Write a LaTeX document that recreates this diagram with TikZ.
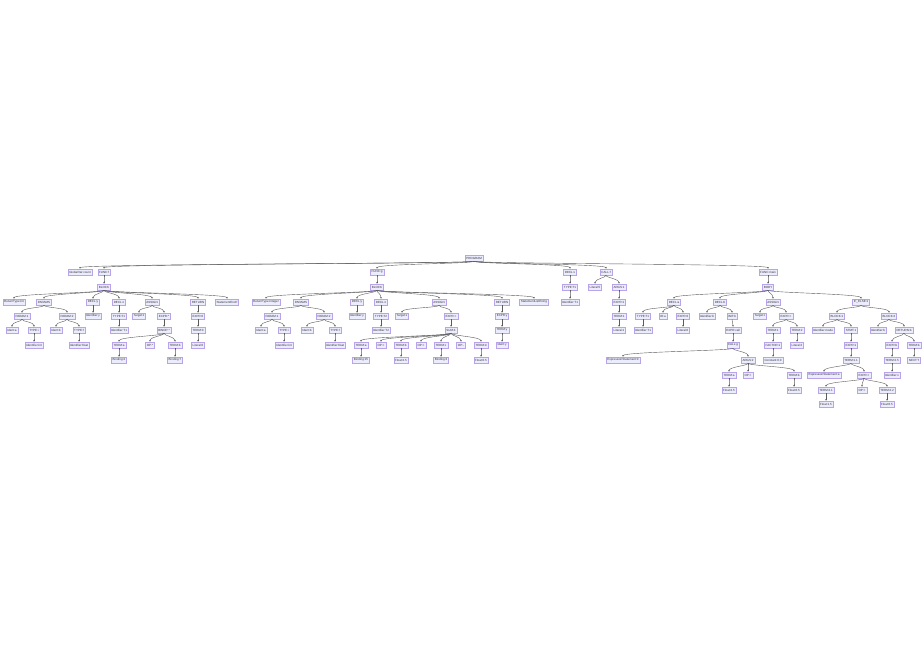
\documentclass[tikz,border=0pt]{standalone}
\usepackage{fontspec}
\setmainfont{Liberation Sans}
\usetikzlibrary{arrows.meta}
\definecolor{mfill}{HTML}{ECECFF}
\definecolor{mstroke}{HTML}{B9A3EA}
\definecolor{medge}{HTML}{5A5A5A}
\definecolor{mtext}{HTML}{333333}
\tikzset{
  nd/.style={rectangle, fill=mfill, draw=mstroke, line width=0.3pt,
    inner xsep=1.3pt, inner ysep=1pt, minimum height=6.2pt,
    font=\fontsize{3}{3.6}\selectfont, text=mtext},
  edge/.style={draw=medge, line width=0.4pt, -{Stealth[length=1.8pt,width=1.7pt]}}
}
\begin{document}
\begin{tikzpicture}[x=1pt,y=1pt]
\fill[white] (0,-664) rectangle (924,0);
\useasboundingbox (0,-664) rectangle (924,0);
% level 0
\node[nd] (r) at (474,-258) {PROGRAM};
% level 1
\node[nd] (a1) at (80,-272) {GlobalVar:count};
\node[nd] (f1) at (104,-272) {FUNC:f};
\node[nd] (f2) at (377,-272) {FUNC:g};
\node[nd] (d1) at (570,-272) {DECL:x};
\node[nd] (c1) at (606,-272) {CALL:f};
\node[nd] (m1) at (768,-272) {FUNC:main};
% level 2
\node[nd] (f1b) at (104,-287) {BLOCK};
\node[nd] (f2b) at (377,-287) {BLOCK};
\node[nd] (d1b) at (570,-287) {TYPE:T1};
\node[nd] (c1a) at (595,-287) {Literal:5};
\node[nd] (c1b) at (619,-287) {ARGS:1};
\node[nd] (m1b) at (768,-287) {BODY};
% f1 subtree
\node[nd] (f1r) at (14,-302) {ReturnType:int};
\node[nd] (f1p) at (44,-302) {PARAMS};
\node[nd] (f1d1) at (93,-302) {DECL:y};
\node[nd] (f1d2) at (119,-302) {DECL:z};
\node[nd] (f1as) at (152,-302) {ASSIGN};
\node[nd] (f1ret) at (198,-302) {RETURN};
\node[nd] (f1end) at (227,-302) {StatementEnd:f};
\node[nd] (p1) at (22,-316) {PARAM:1};
\node[nd] (p2) at (67,-316) {PARAM:2};
\node[nd] (f1d1i) at (93,-316) {Identifier:y};
\node[nd] (f1d2t) at (119,-316) {TYPE:T1};
\node[nd] (f1asl) at (139,-316) {Target:z};
\node[nd] (f1ase) at (164,-316) {EXPR:*};
\node[nd] (f1rete) at (198,-316) {EXPR:0};
\node[nd] (p1n) at (12,-330) {Ident:a};
\node[nd] (p1t) at (34,-330) {TYPE:i};
\node[nd] (p2n) at (56,-330) {Ident:b};
\node[nd] (p2t) at (79,-330) {TYPE:f};
\node[nd] (f1d2ti) at (119,-330) {Identifier:T1};
\node[nd] (f1asb) at (164,-330) {BINOP:*};
\node[nd] (f1rett) at (198,-330) {TERM:0};
\node[nd] (p1ti) at (34,-345) {Identifier:int};
\node[nd] (p2ti) at (79,-345) {Identifier:float};
\node[nd] (f1bt1) at (119,-345) {TERM:a};
\node[nd] (f1bop) at (150,-345) {OP:*};
\node[nd] (f1bt2) at (175,-345) {TERM:b};
\node[nd] (f1retl) at (198,-345) {Literal:0};
\node[nd] (f1bt1v) at (119,-360) {Binding:2};
\node[nd] (f1bt2v) at (175,-360) {Binding:7};
% f2 subtree
\node[nd] (f2r) at (266,-302) {ReturnType:integer};
\node[nd] (f2p) at (301,-302) {PARAMS};
\node[nd] (f2d1) at (357,-302) {DECL:y};
\node[nd] (f2d2) at (381,-302) {DECL:z};
\node[nd] (f2as) at (439,-302) {ASSIGN};
\node[nd] (f2ret) at (502,-302) {RETURN};
\node[nd] (f2end) at (534,-302) {StatementListEnd:g};
\node[nd] (q1) at (272,-316) {PARAM:1};
\node[nd] (q2) at (324,-316) {PARAM:2};
\node[nd] (f2d1i) at (357,-316) {Identifier:y};
\node[nd] (f2d2t) at (381,-316) {TYPE:T2};
\node[nd] (f2asl) at (402,-316) {Target:z};
\node[nd] (f2ase) at (451,-316) {EXPR:+};
\node[nd] (f2rete) at (502,-316) {EXPR:y};
\node[nd] (q1n) at (261,-330) {Ident:a};
\node[nd] (q1t) at (284,-330) {TYPE:i};
\node[nd] (q2n) at (307,-330) {Ident:b};
\node[nd] (q2t) at (335,-330) {TYPE:f};
\node[nd] (f2d2ti) at (381,-330) {Identifier:T2};
\node[nd] (f2asb) at (451,-330) {SUM:4};
\node[nd] (f2rett) at (502,-330) {TERM:y};
\node[nd] (q1ti) at (284,-345) {Identifier:int};
\node[nd] (q2ti) at (335,-345) {Identifier:float};
\node[nd] (g1) at (361,-345) {TERM:a};
\node[nd] (g2) at (381,-345) {OP:+};
\node[nd] (g3) at (401,-345) {TERM:b};
\node[nd] (g4) at (421,-345) {OP:+};
\node[nd] (g5) at (441,-345) {TERM:c};
\node[nd] (g6) at (461,-345) {OP:-};
\node[nd] (g7) at (481,-345) {TERM:d};
\node[nd] (f2retl) at (502,-345) {Ident:y};
\node[nd] (g1v) at (361,-360) {Binding:15};
\node[nd] (g3v) at (401,-360) {Float:2.5};
\node[nd] (g5v) at (441,-360) {Binding:3};
\node[nd] (g7v) at (481,-360) {Float:0.5};
% d1 and c1 subtrees
\node[nd] (d1bi) at (570,-302) {Identifier:T1};
\node[nd] (c1be) at (619,-302) {EXPR:1};
\node[nd] (c1bt) at (619,-316) {TERM:1};
\node[nd] (c1bl) at (619,-330) {Literal:1};
% main subtree
\node[nd] (ma) at (674,-302) {DECL:a};
\node[nd] (mb) at (720,-302) {DECL:b};
\node[nd] (mc) at (773,-302) {ASSIGN};
\node[nd] (md) at (861,-302) {IF\_ELSE:1};
\node[nd] (mat) at (643,-316) {TYPE:T1};
\node[nd] (mai) at (663,-316) {ID:a};
\node[nd] (mae) at (683,-316) {EXPR:0};
\node[nd] (mbi) at (707,-316) {Identifier:b};
\node[nd] (mbe) at (732,-316) {INIT:b};
\node[nd] (mcl) at (760,-316) {Target:c};
\node[nd] (mce) at (786,-316) {EXPR:+};
\node[nd] (mdt) at (837,-316) {BLOCK:1};
\node[nd] (mde) at (889,-316) {BLOCK:2};
\node[nd] (matI) at (643,-330) {Identifier:T1};
\node[nd] (maeL) at (683,-330) {Literal:0};
\node[nd] (mbeC) at (733,-330) {EXPR:call};
\node[nd] (mceT1) at (773,-330) {TERM:1};
\node[nd] (mceT2) at (797,-330) {TERM:2};
\node[nd] (mdtI) at (823,-330) {Identifier:mode};
\node[nd] (mdtE) at (851,-330) {STMT:1};
\node[nd] (mdeI) at (878,-330) {Identifier:b};
\node[nd] (mdeR) at (904,-330) {RETURN:b};
\node[nd] (mbeF) at (733,-345) {CALL:g};
\node[nd] (mceF) at (773,-345) {FACTOR:1};
\node[nd] (mceL) at (797,-345) {Literal:2};
\node[nd] (mdtX) at (851,-345) {EXPR:1};
\node[nd] (mdeE) at (892,-345) {EXPR:b};
\node[nd] (mdeN) at (914,-345) {TERM:b};
\node[nd] (mbeX) at (623,-360) {ExpressionStatement:0};
\node[nd] (mbeA) at (748,-360) {ARGS:2};
\node[nd] (mceC) at (773,-360) {Constant:0.0};
\node[nd] (mdtT) at (851,-360) {TERM:1.1};
\node[nd] (mdeT) at (892,-360) {TERM:2.5};
\node[nd] (mdeNN) at (914,-360) {NEXT:T};
\node[nd] (mbA1) at (729,-375) {TERM:a};
\node[nd] (mbA2) at (748,-375) {OP:+};
\node[nd] (mbA3) at (794,-375) {TERM:b};
\node[nd] (mdtS) at (824,-375) {ExpressionStatement:a};
\node[nd] (mdtP) at (864,-375) {EXPR:+};
\node[nd] (mdeTI) at (892,-375) {Identifier:x};
\node[nd] (mbA1v) at (729,-390) {Float:2.5};
\node[nd] (mbA3v) at (794,-390) {Float:0.5};
\node[nd] (mdP1) at (826,-390) {TERM:2.1};
\node[nd] (mdP2) at (862,-390) {OP:+};
\node[nd] (mdP3) at (887,-390) {TERM:2.2};
\node[nd] (mdP1v) at (826,-404) {Float:1.5};
\node[nd] (mdP3v) at (887,-404) {Float:0.5};
% edges
\foreach \p/\c in {r/a1, r/f1, r/f2, r/d1, r/c1, r/m1,
  f1/f1b, f2/f2b, d1/d1b, c1/c1a, c1/c1b, m1/m1b,
  f1b/f1r, f1b/f1p, f1b/f1d1, f1b/f1d2, f1b/f1as, f1b/f1ret, f1b/f1end,
  f1p/p1, f1p/p2, p1/p1n, p1/p1t, p1t/p1ti, p2/p2n, p2/p2t, p2t/p2ti,
  f1d1/f1d1i, f1d2/f1d2t, f1d2t/f1d2ti,
  f1as/f1asl, f1as/f1ase, f1ase/f1asb, f1asb/f1bt1, f1asb/f1bop, f1asb/f1bt2,
  f1bt1/f1bt1v, f1bt2/f1bt2v,
  f1ret/f1rete, f1rete/f1rett, f1rett/f1retl,
  f2b/f2r, f2b/f2p, f2b/f2d1, f2b/f2d2, f2b/f2as, f2b/f2ret, f2b/f2end,
  f2p/q1, f2p/q2, q1/q1n, q1/q1t, q1t/q1ti, q2/q2n, q2/q2t, q2t/q2ti,
  f2d1/f2d1i, f2d2/f2d2t, f2d2t/f2d2ti,
  f2as/f2asl, f2as/f2ase, f2ase/f2asb,
  f2asb/g1, f2asb/g2, f2asb/g3, f2asb/g4, f2asb/g5, f2asb/g6, f2asb/g7,
  g1/g1v, g3/g3v, g5/g5v, g7/g7v,
  f2ret/f2rete, f2rete/f2rett, f2rett/f2retl,
  d1b/d1bi, c1b/c1be, c1be/c1bt, c1bt/c1bl,
  m1b/ma, m1b/mb, m1b/mc, m1b/md,
  ma/mat, ma/mai, ma/mae, mat/matI, mae/maeL,
  mb/mbi, mb/mbe, mbe/mbeC, mbeC/mbeF, mbeF/mbeX, mbeF/mbeA,
  mbeA/mbA1, mbeA/mbA2, mbeA/mbA3, mbA1/mbA1v, mbA3/mbA3v,
  mc/mcl, mc/mce, mce/mceT1, mce/mceT2, mceT1/mceF, mceF/mceC, mceT2/mceL,
  md/mdt, md/mde, mdt/mdtI, mdt/mdtE, mdtE/mdtX, mdtX/mdtT, mdtT/mdtS, mdtT/mdtP,
  mdtP/mdP1, mdtP/mdP2, mdtP/mdP3, mdP1/mdP1v, mdP3/mdP3v,
  mde/mdeI, mde/mdeR, mdeR/mdeE, mdeR/mdeN, mdeE/mdeT, mdeT/mdeTI, mdeN/mdeNN}
  \draw[edge] (\p.south) .. controls +(0,-2.5) and +(0,5) .. (\c.north);
\end{tikzpicture}
\end{document}
